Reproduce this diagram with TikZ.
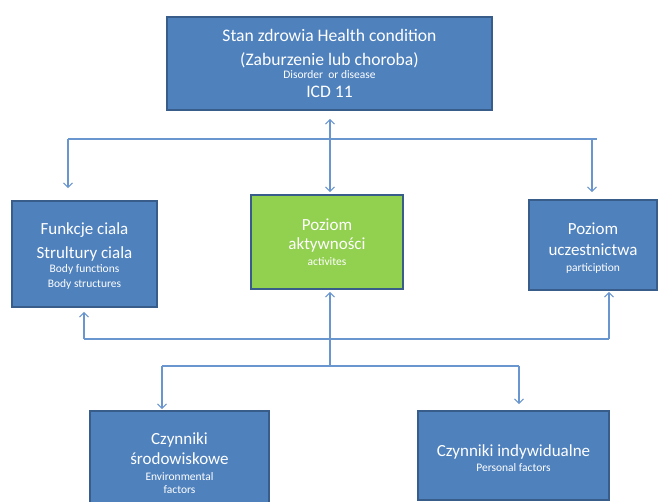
\documentclass[tikz,border=0pt]{standalone}
\usepackage{fontspec}
\setmainfont{Carlito}
\usetikzlibrary{arrows.meta}
\definecolor{boxblue}{HTML}{4F81BD}
\definecolor{boxedge}{HTML}{385D8A}
\definecolor{boxgreen}{HTML}{92D050}
\definecolor{wire}{HTML}{6A96CF}
\newcommand{\bigtxt}{\fontsize{17}{21}\selectfont}
\newcommand{\toptxt}{\fontsize{17.6}{21}\selectfont}
\newcommand{\smalltxt}{\fontsize{11.5}{16}\selectfont}
\tikzset{
  box/.style={draw=boxedge, line width=1.6pt, fill=boxblue},
  greenbox/.style={box, fill=boxgreen},
  boxtext/.style={text=white, align=center, inner sep=0pt, font=\bigtxt},
  wireline/.style={draw=wire, line width=1.1pt},
  arr/.style={wireline, -{Straight Barb[length=4.5pt,width=9pt,line width=1.1pt]}},
  darr/.style={wireline, {Straight Barb[length=4.5pt,width=9pt,line width=1.1pt]}-{Straight Barb[length=4.5pt,width=9pt,line width=1.1pt]}}
}
\begin{document}
\begin{tikzpicture}[x=1pt, y=-1pt]
\useasboundingbox (0,0) rectangle (659,501);

% boxes
\node[box, minimum width=325pt, minimum height=93pt] (health) at (329.5,63.5) {};
\node[box, minimum width=145pt, minimum height=106pt] (body) at (84.5,254) {};
\node[greenbox, minimum width=152pt, minimum height=94pt] (act) at (327,242) {};
\node[box, minimum width=128pt, minimum height=90pt] (part) at (593,245) {};
\node[box, minimum width=179pt, minimum height=105pt] (env) at (179.5,463.5) {};
\node[box, minimum width=191pt, minimum height=89pt] (pers) at (513.5,455.5) {};

% box captions
\node[boxtext, font=\toptxt] (healthtext) at (health.center)
  {Stan zdrowia Health condition\\[3pt](Zaburzenie lub choroba)\\[-8pt]
   {\smalltxt Disorder\ \ or disease}\\[-2pt] ICD 11};
\node[boxtext] (bodytext) at ([yshift=-2.5pt]body.center)
  {Funkcje ciala\\[3pt]Strultury ciala\\[-7pt]
   {\smalltxt Body functions}\\[-6pt]{\smalltxt Body structures}};
\node[boxtext] (acttext) at (act.center)
  {Poziom\\[-2pt]aktywności\\[-5pt]{\smalltxt activites}};
\node[boxtext] (parttext) at ([yshift=-3pt]part.center)
  {Poziom\\uczestnictwa\\[-5pt]{\smalltxt particiption}};
\node[boxtext] (envtext) at (env.center)
  {Czynniki\\[-1pt]środowiskowe\\[-5pt]{\smalltxt Environmental}\\[-8pt]{\smalltxt factors}};
\node[boxtext] (perstext) at ([yshift=-3pt]pers.center)
  {Czynniki indywidualne\\[-6pt]{\smalltxt Personal factors}};

% branch points of the connectors
\coordinate (topL) at (68,139);
\coordinate (topR) at (597,139);
\coordinate (topRdrop) at (592,139);
\coordinate (midL) at (84,339);
\coordinate (midR) at (609,339);
\coordinate (hub) at (330,366);
\coordinate (botL) at (162,366);
\coordinate (botR) at (519,366);

% health condition <-> activities
\draw[darr, shorten <=8pt, shorten >=2pt] (health.south -| hub) -- (act.north -| hub);

% upper distribution line
\draw[wireline] (topL) -- (topR);
\draw[arr, shorten >=12pt] (topL) -- (topL |- body.north);
\draw[arr, shorten >=7pt] (topRdrop) -- (topRdrop |- part.north);

% lower feedback line
\draw[wireline] (midL) -- (midR);
\draw[arr, shorten >=4pt] (midL) -- (midL |- body.south);
\draw[arr, shorten >=1pt] (midR) -- (midR |- part.south);

% contextual factors
\draw[arr, shorten >=2pt] (hub) -- (hub |- act.south);
\draw[wireline] (botL) -- (botR);
\draw[arr, shorten >=1pt] (botL) -- (botL |- env.north);
\draw[arr, shorten >=6pt] (botR) -- (botR |- pers.north);
\end{tikzpicture}
\end{document}
